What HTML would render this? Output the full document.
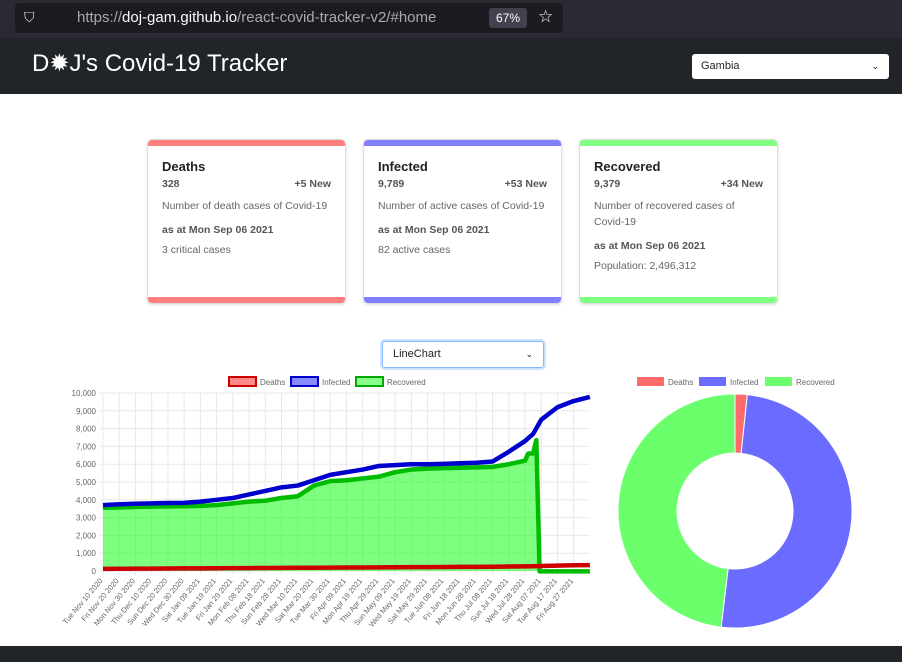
<!DOCTYPE html>
<html><head><meta charset="utf-8">
<style>
*{box-sizing:border-box;margin:0;padding:0}
body{width:902px;height:662px;overflow:hidden;background:#fff;font-family:"Liberation Sans",sans-serif;position:relative}
.abs{position:absolute}
.card{position:absolute;top:139px;width:199px;height:165px;border:1px solid #ddd;border-radius:5px;background:#fff;box-shadow:0 1px 3px rgba(0,0,0,.12);overflow:hidden}
.card .bar{height:6px}
.card .bot{position:absolute;bottom:0;left:0;right:0;height:6px}
.card h3{font-size:13px;font-weight:bold;color:#222;margin:13px 0 0 14px}
.card .row{display:flex;justify-content:space-between;font-size:10.5px;font-weight:bold;color:#555;margin:4px 14px 0 14px}
.card p{font-size:10.5px;color:#666;margin:0 14px;line-height:16px}
</style></head><body>
<div class="abs" style="left:0;top:0;width:902px;height:38px;background:#2b2a33"></div>
<div class="abs" style="left:15px;top:3px;width:548px;height:30px;background:#1c1b22;border-radius:4px;color:#aaa;font-size:15px;line-height:30px;padding-left:62px">https://<span style="color:#fbfbfe">doj-gam.github.io</span>/react-covid-tracker-v2/#home</div>
<div class="abs" style="left:489px;top:8px;width:38px;height:20px;background:#42414d;color:#fff;font-size:12px;line-height:20px;text-align:center;border-radius:3px">67%</div>
<div class="abs" style="left:538px;top:7px;color:#fff;font-size:17px">☆</div>
<div class="abs" style="left:24px;top:9px;color:#ddd;font-size:14px">⛉</div>
<div class="abs" style="left:0;top:38px;width:902px;height:56px;background:#212529"></div>
<div class="abs" style="left:32px;top:49px;color:#fff;font-size:24px">D✹J's Covid-19 Tracker</div>
<div class="abs" style="left:692px;top:54px;width:197px;height:25px;background:#fff;border-radius:3px;font-size:11px;line-height:25px;padding-left:9px;color:#222">Gambia<span style="position:absolute;right:10px;font-size:9px">⌄</span></div>

<div class="card" style="left:147px"><div class="bar" style="background:#ff7f7f"></div><h3>Deaths</h3><div class="row"><span>328</span><span>+5 New</span></div><p style="margin-top:8px">Number of death cases of Covid-19</p><p style="margin-top:8px;font-weight:bold;color:#555">as at Mon Sep 06 2021</p><p style="margin-top:4px">3 critical cases</p><div class="bot" style="background:#ff7f7f"></div></div>
<div class="card" style="left:363px"><div class="bar" style="background:#8080ff"></div><h3>Infected</h3><div class="row"><span>9,789</span><span>+53 New</span></div><p style="margin-top:8px">Number of active cases of Covid-19</p><p style="margin-top:8px;font-weight:bold;color:#555">as at Mon Sep 06 2021</p><p style="margin-top:4px">82 active cases</p><div class="bot" style="background:#8080ff"></div></div>
<div class="card" style="left:579px"><div class="bar" style="background:#80ff80"></div><h3>Recovered</h3><div class="row"><span>9,379</span><span>+34 New</span></div><p style="margin-top:8px">Number of recovered cases of Covid-19</p><p style="margin-top:8px;font-weight:bold;color:#555">as at Mon Sep 06 2021</p><p style="margin-top:4px">Population: 2,496,312</p><div class="bot" style="background:#80ff80"></div></div>

<div class="abs" style="left:382px;top:341px;width:162px;height:27px;border:1px solid #86b7fe;box-shadow:0 0 0 2px #cfe2ff;border-radius:3px;font-size:11px;line-height:25px;padding-left:10px;color:#222">LineChart<span style="position:absolute;right:10px;font-size:9px">⌄</span></div>

<svg class="abs" style="left:0;top:370px" width="902" height="280" id="svg"></svg>
<div class="abs" style="left:0;top:646px;width:902px;height:16px;background:#212529"></div>

<script>
const tickLabels=["Tue Nov 10 2020","Fri Nov 20 2020","Mon Nov 30 2020","Thu Dec 10 2020","Sun Dec 20 2020","Wed Dec 30 2020","Sat Jan 09 2021","Tue Jan 19 2021","Fri Jan 29 2021","Mon Feb 08 2021","Thu Feb 18 2021","Sun Feb 28 2021","Wed Mar 10 2021","Sat Mar 20 2021","Tue Mar 30 2021","Fri Apr 09 2021","Mon Apr 19 2021","Thu Apr 29 2021","Sun May 09 2021","Wed May 19 2021","Sat May 29 2021","Tue Jun 08 2021","Fri Jun 18 2021","Mon Jun 28 2021","Thu Jul 08 2021","Sun Jul 18 2021","Wed Jul 28 2021","Sat Aug 07 2021","Tue Aug 17 2021","Fri Aug 27 2021"];
const yTicks=[0,1000,2000,3000,4000,5000,6000,7000,8000,9000,10000];
const days=[0,10,20,30,40,50,60,70,80,90,100,110,120,130,140,150,160,170,180,190,200,210,220,230,240,250,260,265,270,280,290,300];
const infected=[3700,3750,3780,3800,3820,3830,3900,4000,4100,4300,4500,4700,4800,5100,5400,5550,5700,5900,5950,6000,6000,6020,6050,6080,6150,6700,7300,7700,8500,9200,9550,9780];
const deaths=[120,125,130,135,140,145,150,155,160,165,170,175,180,185,190,195,200,205,210,215,220,225,230,235,240,250,260,270,280,300,320,330];
const recDays=[0,10,20,30,40,50,60,70,80,90,100,110,120,130,140,150,160,170,180,190,200,210,220,230,240,250,260,262,265,266,267,269,300];
const recovered=[3550,3570,3600,3620,3630,3640,3660,3700,3800,3900,3950,4100,4200,4800,5050,5100,5200,5300,5550,5700,5750,5780,5800,5820,5850,6000,6200,6600,6600,7000,7350,-20,-20];
const pieLabels=["Deaths","Infected","Recovered"];
const pieValues=[328,9789,9379];
const pieColors=["#ff6b6b","#6b6bff","#6bff6b"];

const NS="http://www.w3.org/2000/svg",svg=document.getElementById('svg');
function mk(t,a,p){const e=document.createElementNS(NS,t);for(const k in a)e.setAttribute(k,a[k]);(p||svg).appendChild(e);return e;}
const X0=103,X1=590,Y0=201,Y1=23;
const xd=d=>X0+d*1.623;
const y=v=>Y0-(v/10000)*(Y0-Y1);
yTicks.forEach(v=>{let g=mk('line',{x1:X0-4,x2:X1,y1:y(v),y2:y(v),stroke:'#e8e8e8'});
let t=mk('text',{x:X0-7,y:y(v)+3,'text-anchor':'end','font-size':8,fill:'#666'});t.textContent=v.toLocaleString('en-US');});
tickLabels.forEach((l,i)=>{const xx=xd(i*10);let g=mk('line',{x1:xx,x2:xx,y1:Y1,y2:Y0+4,stroke:'#e8e8e8'});
let t=mk('text',{x:xx,y:Y0+10,'text-anchor':'end','font-size':7.5,fill:'#666',transform:`rotate(-50 ${xx} ${Y0+10})`});t.textContent=l;});
function pts(ds,vs){return ds.map((d,i)=>xd(d)+','+y(vs[i])).join(' ');}
let area=mk('polygon',{points:xd(0)+','+y(0)+' '+pts(recDays,recovered)+' '+xd(300)+','+y(0),fill:'rgba(0,255,0,0.5)'});

let lr=mk('polyline',{points:pts(recDays,recovered),fill:'none',stroke:'#0b0',"stroke-width":4.5,"stroke-linejoin":"round"});
let ld=mk('polyline',{points:pts(days,deaths),fill:'none',stroke:'#c00',"stroke-width":4.5});
let li=mk('polyline',{points:pts(days,infected),fill:'none',stroke:'#00c',"stroke-width":4.5,"stroke-linejoin":"round"});
[["Deaths","#f88","#c00",229],["Infected","#88f","#00c",291],["Recovered","#8f8","#0a0",356]].forEach(l=>{let r=mk('rect',{x:l[3],y:7,width:27,height:9,fill:l[1],stroke:l[2],"stroke-width":2});
let t=mk('text',{x:l[3]+31,y:15,'font-size':8,fill:'#666'});t.textContent=l[0];});
[[637],[699],[765]].forEach((p,i)=>{let r=mk('rect',{x:p[0],y:7,width:27,height:9,fill:pieColors[i]});
let t=mk('text',{x:p[0]+31,y:15,'font-size':8,fill:'#666'});t.textContent=pieLabels[i];});
const cx=735,cy=141,R=117,r0=58,tot=pieValues.reduce((a,b)=>a+b,0);let a0=-Math.PI/2;
pieValues.forEach((v,i)=>{const a1=a0+v/tot*2*Math.PI,lg=a1-a0>Math.PI?1:0;
const P=(r,a)=>(cx+r*Math.cos(a))+','+(cy+r*Math.sin(a));
let s=mk('path',{d:`M${P(R,a0)} A${R},${R} 0 ${lg} 1 ${P(R,a1)} L${P(r0,a1)} A${r0},${r0} 0 ${lg} 0 ${P(r0,a0)}Z`,fill:pieColors[i],stroke:'#fff','stroke-width':1});
a0=a1;});
</script>
</body></html>
